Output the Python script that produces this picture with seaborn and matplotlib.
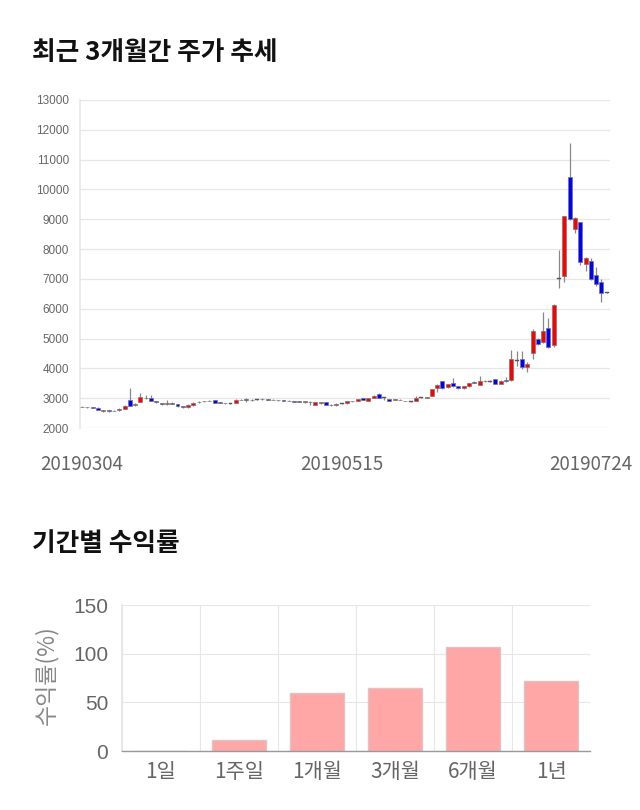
import numpy as np
import pandas as pd
import matplotlib
matplotlib.use("Agg")
import matplotlib.pyplot as plt
import seaborn as sns

# ---------------- data ----------------
dates = ["20190304", "20190515", "20190724"]
date_idx = [0, 49, 96]

opens = [2710, 2710, 2700, 2680, 2560, 2600, 2570, 2590, 2650, 2940,
         2770, 2870, 3010, 2990, 2890, 2830, 2790, 2830, 2800, 2730,
         2690, 2770, 2860, 2890, 2900, 2930, 2860, 2830, 2830, 2850,
         2950, 2980, 2930, 2950, 2970, 2960, 2950, 2940, 2930, 2910,
         2890, 2890, 2870, 2880, 2780, 2830, 2870, 2780, 2760, 2830,
         2830, 2890, 2900, 3010, 2900, 3000, 3150, 3010, 2970, 2940,
         2950, 2900, 2900, 2900, 3020, 3020, 3080, 3340, 3560, 3380,
         3500, 3400, 3330, 3400, 3540, 3440, 3560, 3560, 3630, 3480,
         3620, 3600, 4260, 4305, 4060, 4500, 4970, 4880, 5350, 4790,
         7010, 7100, 10410, 8670, 8910, 7500, 7600, 7120, 6910, 6540]
closes = [2720, 2690, 2670, 2610, 2590, 2565, 2575, 2640, 2750, 2750,
          2820, 3030, 3000, 2910, 2870, 2790, 2830, 2800, 2730, 2690,
          2780, 2850, 2870, 2900, 2910, 2850, 2855, 2835, 2830, 2950,
          2955, 2930, 2940, 2950, 2965, 2955, 2945, 2935, 2920, 2900,
          2885, 2880, 2890, 2870, 2870, 2870, 2780, 2785, 2810, 2830,
          2890, 2895, 2970, 2950, 2990, 3080, 3010, 3010, 2900, 2970,
          2940, 2905, 2900, 3000, 3020, 3025, 3300, 3450, 3340, 3470,
          3400, 3330, 3400, 3510, 3520, 3590, 3565, 3560, 3480, 3590,
          3560, 4320, 4260, 4060, 4150, 5260, 4820, 5240, 4720, 6140,
          7010, 9110, 9000, 9050, 7580, 7700, 7000, 6830, 6540, 6540]
highs = [2730, 2720, 2710, 2690, 2620, 2610, 2600, 2660, 2760, 3330,
         2840, 3180, 3100, 3090, 2910, 2850, 2930, 2880, 2810, 2740,
         2790, 2860, 2890, 2920, 2930, 2940, 2870, 2850, 2850, 2960,
         2980, 2990, 2960, 2980, 2990, 2970, 2960, 2950, 2940, 2930,
         2910, 2900, 2910, 2900, 2880, 2880, 2880, 2800, 2830, 2850,
         2900, 2910, 2980, 3020, 3000, 3090, 3170, 3030, 2980, 2980,
         2960, 2920, 2920, 3060, 3050, 3040, 3310, 3470, 3580, 3490,
         3680, 3420, 3420, 3520, 3560, 3730, 3620, 3600, 3640, 3600,
         3700, 4600, 4590, 4570, 4200, 5330, 5020, 5890, 5690, 6150,
         7960, 9120, 11550, 9070, 8920, 7720, 7700, 7400, 7000, 6560]
lows = [2700, 2680, 2660, 2600, 2550, 2550, 2560, 2580, 2640, 2730,
        2740, 2860, 2980, 2890, 2850, 2780, 2780, 2790, 2720, 2680,
        2680, 2740, 2850, 2880, 2890, 2840, 2840, 2820, 2820, 2840,
        2940, 2880, 2920, 2930, 2950, 2940, 2930, 2920, 2910, 2890,
        2870, 2860, 2850, 2760, 2770, 2820, 2760, 2740, 2750, 2810,
        2820, 2870, 2890, 2940, 2890, 2990, 3000, 2940, 2890, 2930,
        2930, 2890, 2880, 2890, 3000, 3000, 3060, 3220, 3320, 3340,
        3380, 3310, 3310, 3390, 3500, 3430, 3540, 3530, 3470, 3470,
        3540, 3580, 4080, 3980, 3880, 4300, 4800, 4860, 4680, 4700,
        6700, 6900, 8990, 8530, 7450, 7250, 6950, 6750, 6240, 6520]

periods = ["1일", "1주일", "1개월", "3개월", "6개월", "1년"]
returns = [0.0, 11.3, 59.6, 64.7, 106.9, 71.9]

# ---------------- style ----------------
sns.set_theme(style="white")
plt.rcParams["font.family"] = ["Noto Sans CJK KR", "DejaVu Sans"]

GRID = "#e6e6e6"
TXT = "#666666"

fig = plt.figure(figsize=(6.4, 8.1), dpi=100)

# ---------------- candlestick chart ----------------
ax = fig.add_axes([0.125, 0.4716, 0.828, 0.405])
idx = np.arange(len(opens))
o = np.array(opens, float)
c = np.array(closes, float)
h = np.array(highs, float)
l = np.array(lows, float)

ax.vlines(idx, l, h, color="#888888", linewidth=0.9, zorder=2)
up = c > o
down = c < o
flat = c == o
bottom = np.minimum(o, c)
height = np.abs(c - o)
ax.bar(idx[up], height[up], bottom=bottom[up], width=0.75,
       color="#ff0000", edgecolor="#777777", linewidth=0.5, zorder=3)
ax.bar(idx[down], height[down], bottom=bottom[down], width=0.75,
       color="#0000ff", edgecolor="#777777", linewidth=0.5, zorder=3)
ax.bar(idx[flat], np.full(flat.sum(), 25.0), bottom=o[flat] - 12, width=0.75,
       color="#555555", edgecolor="#555555", linewidth=0.3, zorder=3)

ax.set_xlim(-0.4, 99.6)
ax.set_ylim(2000, 13000)
ax.set_yticks(np.arange(2000, 13001, 1000))
ax.set_yticklabels([str(v) for v in range(2000, 13001, 1000)],
                   fontsize=8.5, color=TXT, family=["Liberation Sans", "DejaVu Sans"])
ax.tick_params(axis="y", length=7, width=0.8, color=GRID, pad=1)
ax.set_xticks(date_idx)
ax.set_xticklabels(dates, fontsize=13.5, color=TXT)
ax.tick_params(axis="x", length=0, pad=19)
ax.grid(axis="y", color=GRID, linewidth=0.9)
ax.grid(axis="x", visible=False)
for s in ["top", "right", "bottom"]:
    ax.spines[s].set_visible(False)
ax.spines["left"].set_color(GRID)
ax.spines["left"].set_linewidth(1.2)

fig.text(0.05, 0.9358, "최근 3개월간 주가 추세", fontsize=18.5, fontweight="bold",
         color="#111111", va="center", ha="left")

# ---------------- returns bar chart ----------------
ax2 = fig.add_axes([0.1906, 0.0728, 0.7313, 0.1802])
df = pd.DataFrame({"period": periods, "ret": returns})
sns.barplot(data=df, x="period", y="ret", color="#ffa6a6", edgecolor="#e0c4c4",
            linewidth=1.0, width=0.69, saturation=1, ax=ax2, zorder=3)
ax2.set_xlim(-0.5, 5.5)
ax2.set_ylim(0, 150)
ax2.set_yticks([0, 50, 100, 150])
ax2.set_yticklabels(["0", "50", "100", "150"], fontsize=15, color=TXT,
                    family=["Liberation Sans", "DejaVu Sans"])
ax2.tick_params(axis="y", length=8, width=0.8, color=GRID, pad=2)
bounds = np.arange(len(periods)) - 0.5
ax2.set_xticks(bounds)
ax2.set_xticklabels([""] * len(bounds))
ax2.set_xticks(np.arange(len(periods)), minor=True)
ax2.set_xticklabels(periods, minor=True, fontsize=15, color=TXT)
ax2.tick_params(axis="x", which="major", length=10, width=0.8, color=GRID)
ax2.tick_params(axis="x", which="minor", length=0, pad=7)
ax2.grid(axis="both", which="major", color=GRID, linewidth=0.8)
ax2.set_xlabel("")
ax2.set_ylabel("")
for s in ["top", "right"]:
    ax2.spines[s].set_visible(False)
ax2.spines["left"].set_color(GRID)
ax2.spines["bottom"].set_color("#999999")
ax2.spines["bottom"].set_linewidth(1.0)
ax2.spines["bottom"].set_zorder(4)

fig.text(0.072, 0.1667, "수익률(%)", rotation=90, fontsize=16.5, color="#888888",
         va="center", ha="center")
fig.text(0.05, 0.3296, "기간별 수익률", fontsize=18.5, fontweight="bold",
         color="#111111", va="center", ha="left")

fig.savefig("out.png", dpi=100, facecolor="white")
